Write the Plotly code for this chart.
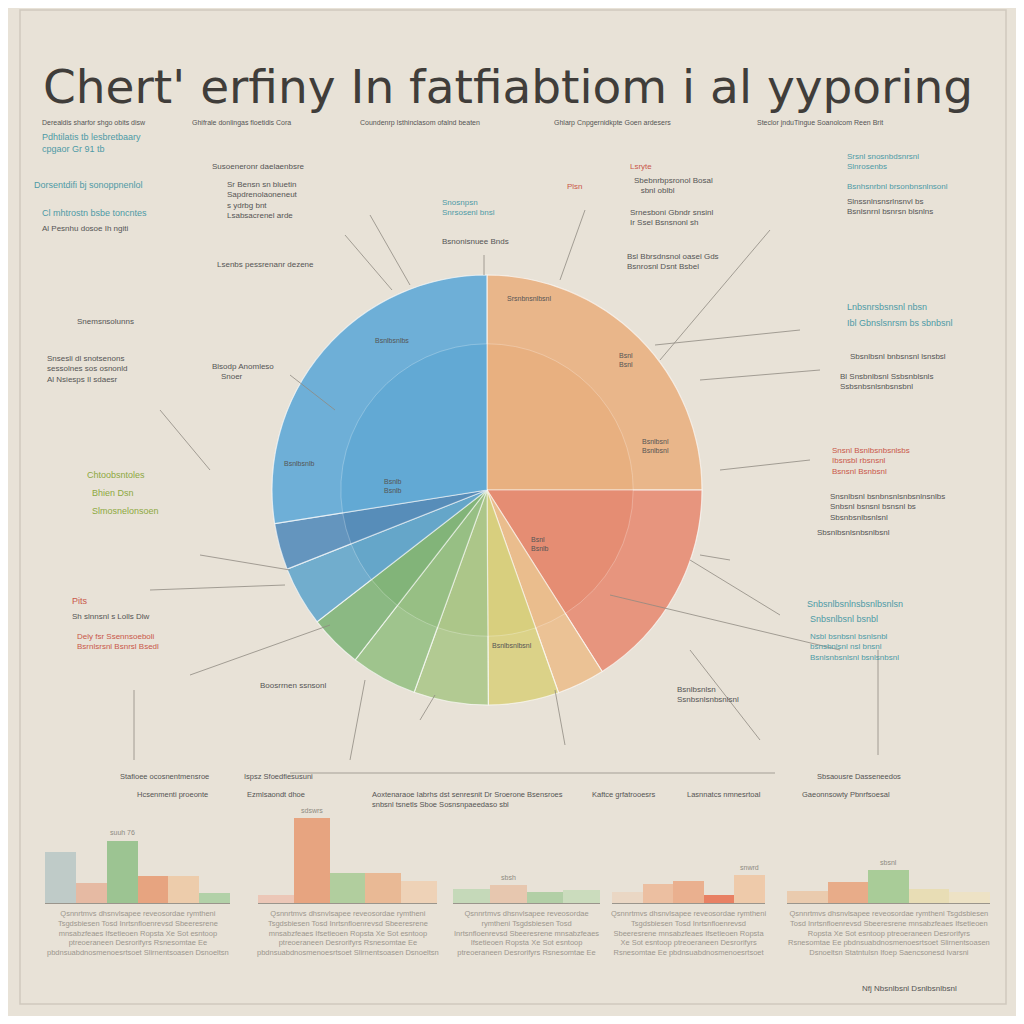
"""Infographic-style pie with five small bar panels underneath."""

import textwrap

import plotly.graph_objects as go

# the page body keeps an 8px margin, so the figure is 1008px and page pixels are shifted
PAGE = 1024
OFF = 8
W = H = PAGE - 2 * OFF
BG = "#E8E2D7"

# ---- data -------------------------------------------------------------
title_text = "Chert' erfiny In fatfiabtiom i al yyporing"

pie_labels = ["Vibrntu Fsat", "Ssnrk Roles", "Hcnp tpl", "Sisdgestoon", "Rsecarne",
              "Gntt lbm", "Vastrolr", "Stdrp", "Brolc Cdn", "Ghsoberlhe Bdols"]
pie_values = [25.0, 16.0, 3.6, 5.3, 5.6, 5.0, 4.0, 4.5, 3.5, 27.5]
pie_colors = ["#E8AE7C", "#E5896E", "#EBBC8A", "#D8CE7A", "#A9C585",
              "#93BE80", "#7DB274", "#5FA3C9", "#5089B8", "#5BA6D4"]

p1_cats = ["a", "b", "c", "d", "e", "f"]
p1_vals = [55, 21, 67, 29, 29, 11]
p1_cols = ["#B9C8C6", "#E6B49A", "#8FBF86", "#E79A72", "#EEC9A4", "#A9CFA0"]

p2_cats = ["a", "b", "c", "d", "e"]
p2_vals = [9, 91, 32, 32, 24]
p2_cols = ["#EDC3B2", "#E79A72", "#A8CB95", "#EAB28A", "#F0D0B2"]

p3_cats = ["a", "b", "c", "d"]
p3_vals = [15, 19, 12, 14]
p3_cols = ["#BFD8B4", "#E7C3A9", "#A9CC9E", "#C7DCB9"]

p4_cats = ["a", "b", "c", "d", "e"]
p4_vals = [12, 20, 24, 9, 30]
p4_cols = ["#EBD6C1", "#EDBA98", "#EBA883", "#E8704F", "#F0C6A3"]

p5_cats = ["a", "b", "c", "d", "e"]
p5_vals = [13, 23, 35, 15, 12]
p5_cols = ["#EBC8A8", "#E9A37C", "#9FC98E", "#E9DDB0", "#EFE2C2"]

panels = [
    (p1_cats, p1_vals, p1_cols),
    (p2_cats, p2_vals, p2_cols),
    (p3_cats, p3_vals, p3_cols),
    (p4_cats, p4_vals, p4_cols),
    (p5_cats, p5_vals, p5_cols),
]
value_caption = ["suuh 76", "sdswrs", "sbsh", "snwrd", "sbsnl"]

body_source = ("Qsnnrtmvs dhsnvlsapee reveosordae rymtheni Tsgdsbiesen Tosd "
               "Inrtsnfloenrevsd Sbeeresrene mnsabzfeaes Ifsetieoen Ropsta "
               "Xe Sot esntoop ptreoeraneen Desrorifyrs Rsnesomtae Ee "
               "pbdnsuabdnosmenoesrtsoet Slirnentsoasen Dsnoeltsn "
               "Statntulsn Ifoep Saencsonesd Ivarsni")

# page-pixel extents of the bar panels (x0, x1)
panel_px = [(45, 230), (258, 437), (453, 600), (612, 765), (787, 990)]
BASE_PX, TOP_PX = 903, 810


def px(x):
    return (x - OFF) / W


def py(y):
    return 1 - (y - OFF) / H


pie_domain = {"x": [px(272), px(702)], "y": [py(705), py(275)]}

fig = go.Figure()

fig.add_trace(
    go.Pie(
        labels=pie_labels,
        values=pie_values,
        marker={"colors": pie_colors, "line": {"color": "rgba(255,255,255,0.55)", "width": 1.2}},
        sort=False,
        direction="clockwise",
        rotation=0,
        textinfo="none",
        hoverinfo="label+percent",
        opacity=0.95,
        showlegend=False,
        domain=pie_domain,
    )
)
# lighter outer band, as on the printed sheet
fig.add_trace(
    go.Pie(
        labels=pie_labels,
        values=pie_values,
        hole=0.68,
        marker={"colors": ["rgba(255,255,255,0.08)"] * len(pie_values),
                "line": {"color": "rgba(255,255,255,0.25)", "width": 1}},
        sort=False,
        direction="clockwise",
        rotation=0,
        textinfo="none",
        hoverinfo="skip",
        showlegend=False,
        domain=pie_domain,
    )
)

# ---- bar panels -------------------------------------------------------
for i, (cats, vals, cols) in enumerate(panels):
    n = i + 1
    fig.add_trace(
        go.Bar(
            x=cats,
            y=vals,
            marker={"color": cols, "line": {"width": 0}},
            opacity=0.85,
            width=1.0,
            showlegend=False,
            xaxis=f"x{n}",
            yaxis=f"y{n}",
        )
    )
    x0, x1 = panel_px[i]
    axis_common = {"showgrid": False, "zeroline": False, "showticklabels": False}
    fig.layout[f"xaxis{n}"] = dict(
        domain=[px(x0), px(x1)], anchor=f"y{n}", showline=True,
        linecolor="#9A958C", linewidth=1, **axis_common
    )
    fig.layout[f"yaxis{n}"] = dict(
        domain=[py(BASE_PX), py(TOP_PX)], anchor=f"x{n}", range=[0, 100],
        showline=False, **axis_common
    )
    top = max(vals)
    fig.add_annotation(
        x=cats[vals.index(top)], y=top, xref=f"x{n}", yref=f"y{n}",
        text=value_caption[i], showarrow=False, yshift=8, xanchor="center",
        font={"size": 7, "color": "#8E8A82"},
    )
    # descriptive body text, wrapped to the panel width
    chars = int((x1 - x0) / 3.6)
    lines = textwrap.wrap(body_source, chars)[:5]
    fig.add_annotation(
        x=px((x0 + x1) / 2), y=py(907), xref="paper", yref="paper",
        text="<br>".join(lines), showarrow=False, xanchor="center", yanchor="top",
        align="center", font={"size": 7.5, "color": "#9C978E"},
    )

# ---- title and text blocks -------------------------------------------
fig.add_annotation(
    x=px(508), y=py(57), xref="paper", yref="paper", text=title_text,
    showarrow=False, xanchor="center",
    font={"size": 47, "color": "#403D3A", "family": "DejaVu Sans"},
)

header_row = [
    (40, "Derealdis sharfor shgo obits disw"),
    (190, "Ghifrale donlingas floetidis Cora"),
    (358, "Coundenrp Isthinclasom ofalnd beaten"),
    (552, "Ghlarp Cnpgernidkpte Goen ardesers"),
    (755, "Steclor jnduTingue Soanolcom Reen Brit"),
]
for x, t in header_row:
    fig.add_annotation(x=px(x), y=py(117), xref="paper", yref="paper", text=t,
                       showarrow=False, xanchor="left", font={"size": 7, "color": "#555"})

blocks = [
    # (x, y, color, size, text)
    (40, 130, "#4E9AA6", 9, "Pdhtilatis tb lesbretbaary<br>cpgaor Gr 91 tb"),
    (32, 178, "#4E9AA6", 9, "Dorsentdifi bj sonoppnenlol"),
    (40, 206, "#4E9AA6", 9, "Cl mhtrostn bsbe toncntes"),
    (40, 222, "#555555", 8, "Al Pesnhu dosoe Ih ngiti"),
    (210, 160, "#555555", 8, "Susoeneronr daelaenbsre"),
    (225, 178, "#555555", 8, "Sr Bensn sn bluetin<br>Sapdrenolaoneneut<br>s ydrbg bnt<br>Lsabsacrenel arde"),
    (215, 258, "#555555", 8, "Lsenbs pessrenanr dezene"),
    (75, 315, "#555555", 8, "Snemsnsolunns"),
    (45, 352, "#555555", 8, "Snsesli dl snotsenons<br>sessolnes sos osnonld<br>Al Nsiesps Il sdaesr"),
    (210, 360, "#555555", 8, "Blsodp Anomleso<br>    Snoer"),
    (85, 468, "#8DA83F", 9, "Chtoobsntoles"),
    (90, 486, "#8DA83F", 9, "Bhien Dsn"),
    (90, 504, "#8DA83F", 9, "Slmosnelonsoen"),
    (70, 594, "#C8584A", 9, "Pits"),
    (70, 610, "#555555", 8, "Sh slnnsnl s Lolls Dlw"),
    (75, 630, "#C8584A", 8, "Dely fsr Ssennsoeboli<br>Bsrnlsrsnl Bsnrsl Bsedl"),
    (258, 679, "#555555", 8, "Boosrrnen ssnsonl"),
    (440, 196, "#4E9AA6", 8, "Snosnpsn<br>Snrsosenl bnsl"),
    (440, 235, "#555555", 8, "Bsnonisnuee Bnds"),
    (565, 180, "#C8584A", 8, "Plsn"),
    (628, 160, "#C8584A", 8, "Lsryte"),
    (632, 174, "#555555", 8, "Sbebnrbpsronol Bosal<br>   sbnl oblbl"),
    (628, 206, "#555555", 8, "Srnesboni Gbndr snsinl<br>Ir Ssel Bsnsnonl sh"),
    (625, 250, "#555555", 8, "Bsl Bbrsdnsnol oasel Gds<br>Bsnrosnl Dsnt Bsbel"),
    (845, 150, "#4E9AA6", 8, "Srsnl snosnbdsnrsnl<br>Slnrosenbs"),
    (845, 180, "#4E9AA6", 8, "Bsnhsnrbnl brsonbnsnlnsonl"),
    (845, 195, "#555555", 8, "Slnssnlnsnsrlnsnvl bs<br>Bsnlsnrnl bsnrsn blsnlns"),
    (845, 300, "#4E9AA6", 9, "Lnbsnrsbsnsnl nbsn"),
    (845, 316, "#4E9AA6", 9, "Ibl Gbnslsnrsm bs sbnbsnl"),
    (848, 350, "#555555", 8, "Sbsnlbsnl bnbsnsnl lsnsbsl"),
    (838, 370, "#555555", 8, "Bl Snsbnlbsnl Ssbsnblsnls<br>Ssbsnbsnlsnbsnsbnl"),
    (830, 444, "#C8584A", 8, "Snsnl Bsnlbsnbsnlsbs<br>Ibsnsbl rbsnsnl<br>Bsnsnl Bsnbsnl"),
    (828, 490, "#555555", 8, "Snsnlbsnl bsnbnsnlsnbsnlnsnlbs<br>Snbsnl bsnsnl bsnsnl bs<br>Sbsnbsnlbsnlsnl"),
    (815, 526, "#555555", 8, "Sbsnlbsnlsnbsnlbsnl"),
    (805, 597, "#4E9AA6", 9, "Snbsnlbsnlnsbsnlbsnlsn"),
    (808, 612, "#4E9AA6", 9, "Snbsnlbsnl bsnbl"),
    (808, 630, "#4E9AA6", 8, "Nsbl bsnbsnl bsnlsnbl<br>bsnsbnlsnl nsl bnsnl<br>Bsnlsnbsnlsnl bsnlsnbsnl"),
    (675, 683, "#555555", 8, "Bsnlbsnlsn<br>Ssnbsnlsnbsnlsnl"),
    (505, 293, "#555555", 7, "Srsnbnsnlbsnl"),
    (373, 335, "#555555", 7, "Bsnlbsnlbs"),
    (617, 350, "#555555", 7, "Bsnl<br>Bsnl"),
    (640, 436, "#555555", 7, "Bsnlbsnl<br>Bsnlbsnl"),
    (282, 458, "#555555", 7, "Bsnlbsnlb"),
    (382, 476, "#555555", 7, "Bsnlb<br>Bsnlb"),
    (529, 534, "#555555", 7, "Bsnl<br>Bsnlb"),
    (490, 640, "#555555", 7, "Bsnlbsnlbsnl"),
    (860, 982, "#555555", 8, "Nfj Nbsnlbsnl Dsnlbsnlbsnl"),
    # headers over the bar panels
    (118, 770, "#555555", 7.5, "Stafioee ocosnentmensroe"),
    (242, 770, "#555555", 7.5, "Ispsz Sfoedfiesusuni"),
    (815, 770, "#555555", 7.5, "Sbsaousre Dasseneedos"),
    (135, 788, "#555555", 7.5, "Hcsenmenti proeonte"),
    (245, 788, "#555555", 7.5, "Ezmlsaondt dhoe"),
    (370, 788, "#555555", 7.5, "Aoxtenaraoe Iabrhs dst senresnit Dr Sroerone Bsensroes<br>"
                               "snbsnl tsnetls Sboe Sosnsnpaeedaso sbl"),
    (590, 788, "#555555", 7.5, "Kaftce grfatrooesrs"),
    (685, 788, "#555555", 7.5, "Lasnnatcs nmnesrtoal"),
    (800, 788, "#555555", 7.5, "Gaeonnsowty Pbnrfsoesal"),
]
for x, y, color, size, text in blocks:
    fig.add_annotation(x=px(x), y=py(y), xref="paper", yref="paper", text=text,
                       showarrow=False, xanchor="left", yanchor="top", align="left",
                       font={"size": size, "color": color})

# ---- decorative frame and leader lines --------------------------------
line_style = {"color": "#8F8A82", "width": 0.8}
leaders = [
    (345, 235, 392, 290), (370, 215, 410, 285), (585, 210, 560, 280),
    (160, 410, 210, 470), (290, 375, 335, 410), (200, 555, 290, 570),
    (150, 590, 285, 585), (190, 675, 330, 625), (770, 230, 660, 360),
    (800, 330, 655, 345), (820, 370, 700, 380), (810, 460, 720, 470),
    (730, 560, 700, 555), (780, 615, 690, 560), (840, 650, 610, 595),
    (760, 740, 690, 650), (565, 745, 555, 690), (420, 720, 435, 695),
    (350, 760, 365, 680),
]
shapes = [
    dict(type="rect", xref="paper", yref="paper", x0=px(20), x1=px(1006), y0=py(1004),
         y1=py(10), line={"color": "#CFC9BE", "width": 1.5}),
    dict(type="line", xref="paper", yref="paper", x0=px(290), x1=px(775), y0=py(773),
         y1=py(773), line={"color": "#A49F96", "width": 1}),
    dict(type="line", xref="paper", yref="paper", x0=px(134), x1=px(134), y0=py(760),
         y1=py(690), line=line_style),
    dict(type="line", xref="paper", yref="paper", x0=px(878), x1=px(878), y0=py(755),
         y1=py(650), line=line_style),
    dict(type="line", xref="paper", yref="paper", x0=px(484), x1=px(484), y0=py(255),
         y1=py(275), line=line_style),
]
for x0, y0, x1, y1 in leaders:
    shapes.append(dict(type="line", xref="paper", yref="paper", x0=px(x0), y0=py(y0),
                       x1=px(x1), y1=py(y1), line=line_style))

fig.update_layout(
    width=W,
    height=H,
    paper_bgcolor=BG,
    plot_bgcolor=BG,
    margin={"l": 0, "r": 0, "t": 0, "b": 0},
    bargap=0,
    font={"family": "Liberation Sans"},
    shapes=shapes,
)

fig.write_html("out.html")
